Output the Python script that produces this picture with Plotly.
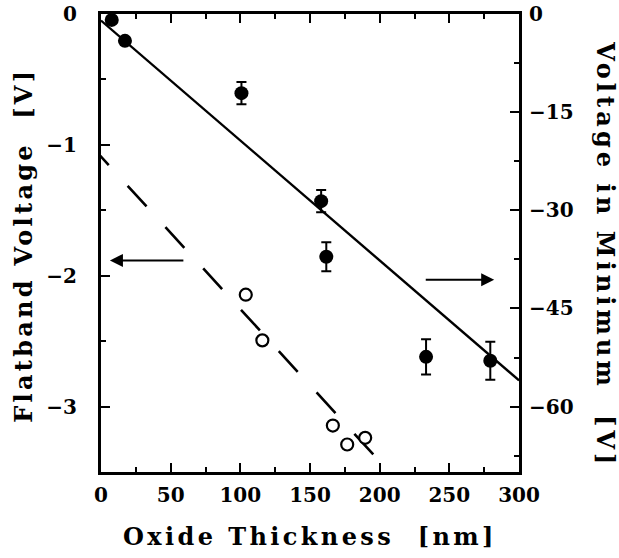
import plotly.graph_objects as go

# Filled circles: Voltage in minimum (right axis) vs oxide thickness
vmin_thickness = [7.7, 17.2, 100.8, 158.0, 161.7, 233.3, 279.4]
vmin_voltage = [-0.9, -4.1, -12.1, -28.6, -37.1, -52.4, -53.0]
vmin_error = [0.0, 0.0, 1.7, 1.7, 2.2, 2.7, 2.9]

# Solid fit line (right axis)
fit_min_x = [0, 300]
fit_min_y = [-1.0, -56.0]

# Open circles: flatband voltage (left axis)
vfb_thickness = [103.9, 115.8, 166.4, 176.7, 189.6]
vfb_voltage = [-2.145, -2.494, -3.145, -3.29, -3.239]

# Dashed fit line (left axis)
fit_fb_x = [-8, 197.5]
fit_fb_y = [-0.997, -3.39]

x_ticks = [0, 50, 100, 150, 200, 250, 300]
left_ticks = [0, -1, -2, -3]
left_labels = ["0", "\u22121", "\u22122", "\u22123"]
right_ticks = [0, -15, -30, -45, -60]
right_labels = ["0", "\u221215", "\u221230", "\u221245", "\u221260"]

FONT = "DejaVu Serif"
NB = "\u00a0"


def spaced(txt, px):
    return '<span style="letter-spacing:%spx">%s</span>' % (px, txt)


fig = go.Figure()

fig.add_trace(go.Scatter(
    x=fit_fb_x, y=fit_fb_y, mode="lines", yaxis="y",
    line=dict(color="black", width=2.6, dash="28px,28px"),
    showlegend=False, hoverinfo="skip"))

fig.add_trace(go.Scatter(
    x=vfb_thickness, y=vfb_voltage, mode="markers", yaxis="y",
    marker=dict(symbol="circle", size=12, color="white",
                line=dict(color="black", width=2.2)),
    showlegend=False))

fig.add_trace(go.Scatter(
    x=fit_min_x, y=fit_min_y, mode="lines", yaxis="y2",
    line=dict(color="black", width=2.4),
    showlegend=False, hoverinfo="skip"))

fig.add_trace(go.Scatter(
    x=vmin_thickness, y=vmin_voltage, mode="markers", yaxis="y2",
    marker=dict(symbol="circle", size=14, color="black"),
    error_y=dict(type="data", array=vmin_error, visible=True,
                 color="black", thickness=2, width=5),
    cliponaxis=False,
    showlegend=False))

fig.update_layout(
    width=619, height=558,
    margin=dict(l=101, r=100, t=14, b=86, autoexpand=False),
    paper_bgcolor="white", plot_bgcolor="white",
    font=dict(family=FONT, color="black", size=20),
    xaxis=dict(
        range=[0, 300], tickvals=x_ticks, ticks="inside", ticklen=9,
        tickwidth=2, tickcolor="black",
        minor=dict(dtick=25, ticks="inside", ticklen=5, tickwidth=2, tickcolor="black"),
        showline=True, linewidth=3, linecolor="black", mirror="ticks",
        showgrid=False, zeroline=False, ticklabelstandoff=3,
        tickfont=dict(family=FONT, size=20, weight="bold")),
    yaxis=dict(
        range=[-3.5, 0], tickvals=left_ticks, ticktext=left_labels,
        ticks="inside", ticklen=9, tickwidth=2, tickcolor="black",
        minor=dict(dtick=0.5, ticks="inside", ticklen=5, tickwidth=2, tickcolor="black"),
        showline=True, linewidth=3, linecolor="black",
        showgrid=False, zeroline=False, ticklabelstandoff=17,
        tickfont=dict(family=FONT, size=20, weight="bold")),
    yaxis2=dict(
        range=[-70, 0], tickvals=right_ticks, ticktext=right_labels,
        overlaying="y", side="right",
        ticks="inside", ticklen=9, tickwidth=2, tickcolor="black",
        minor=dict(dtick=7.5, ticks="inside", ticklen=5, tickwidth=2, tickcolor="black"),
        showline=True, linewidth=3, linecolor="black",
        showgrid=False, zeroline=False, ticklabelstandoff=3,
        tickfont=dict(family=FONT, size=20, weight="bold")),
)

title_font = dict(family=FONT, size=24, color="black", weight="bold")

fig.add_annotation(
    text=spaced("Oxide Thickness" + NB + NB + "[nm]", 3.4), xref="paper", yref="paper",
    x=0.5, y=-0.14, xanchor="center", yanchor="middle", showarrow=False,
    font=title_font)
fig.add_annotation(
    text=spaced("Flatband Voltage" + NB + NB + "[V]", 3.3), xref="paper", yref="paper",
    x=-0.184, y=0.494, xanchor="center", yanchor="middle", showarrow=False,
    textangle=-90, font=title_font)
fig.add_annotation(
    text=spaced("Voltage in Minimum" + NB + NB + "[V]", 4.1), xref="paper", yref="paper",
    x=1.205, y=0.474, xanchor="center", yanchor="middle", showarrow=False,
    textangle=90, font=title_font)

# Arrows indicating which axis each data set belongs to
fig.add_annotation(
    x=6.4, y=-1.883, ax=60.2, ay=-1.883, xref="x", yref="y", axref="x", ayref="y",
    text="", showarrow=True, arrowhead=2, arrowsize=1.3, arrowwidth=2, arrowcolor="black")
fig.add_annotation(
    x=282.2, y=-2.03, ax=232, ay=-2.03, xref="x", yref="y", axref="x", ayref="y",
    text="", showarrow=True, arrowhead=2, arrowsize=1.3, arrowwidth=2, arrowcolor="black")

fig.write_html("out.html")
